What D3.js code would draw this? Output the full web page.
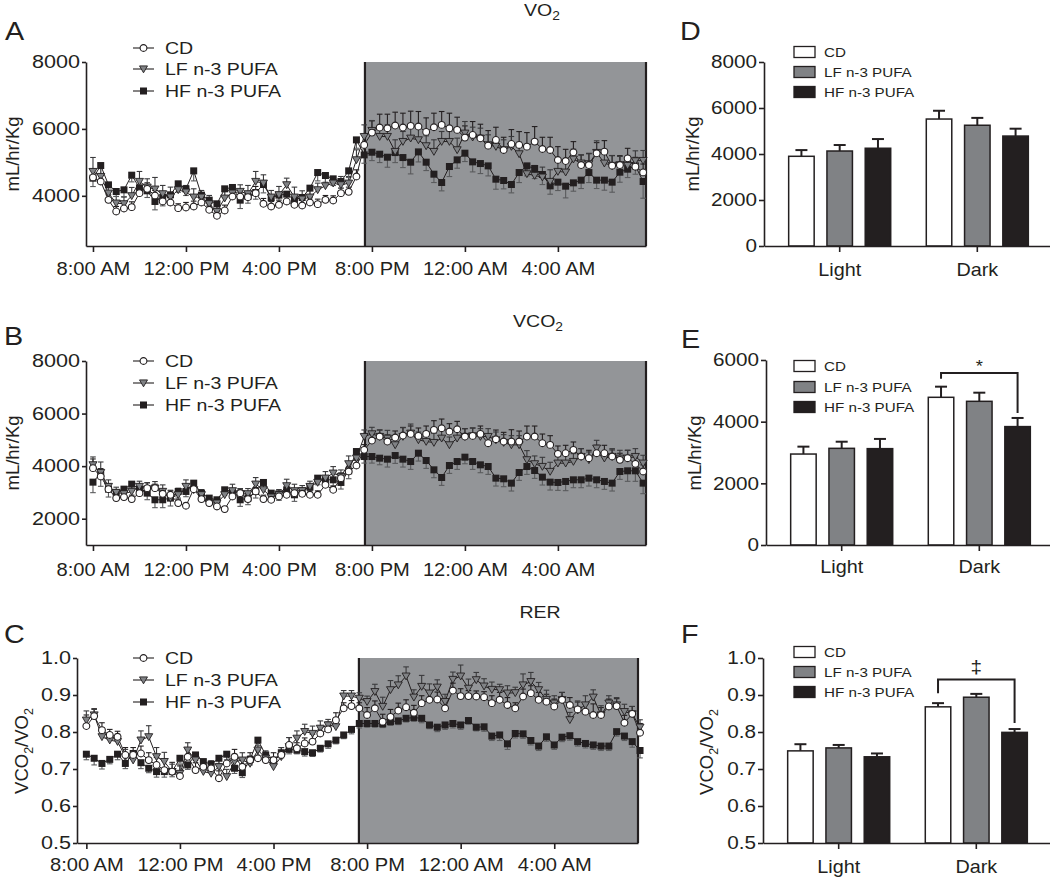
<!DOCTYPE html>
<html><head><meta charset="utf-8">
<script src="https://cdn.jsdelivr.net/npm/d3@7"></script>
<style>body{margin:0;background:#fff}svg{display:block}</style>
</head><body><svg id="c" width="1050" height="878"></svg>
<script>
// ---------------- DATA ----------------
const seriesNames = ["CD", "LF n-3 PUFA", "HF n-3 PUFA"];
const clockTicks = [8, 12, 16, 20, 24, 28];
const clockLabels = ["8:00 AM", "12:00 PM", "4:00 PM", "8:00 PM", "12:00 AM", "4:00 AM"];
const hours = d3.range(72).map(i => 8 + i / 3); // 20-min sampling grid, 8:00 AM -> 7:40 AM
const periods = ["Light", "Dark"];

// Panel A: VO2 (mL/hr/Kg)
const vo2CD = [4550,4428,3880,3532,3622,3661,4080,4209,4010,3831,3801,3632,3652,3681,3801,3582,3403,3562,3980,3980,3960,4080,3761,3681,3731,3831,3731,3711,3801,3751,3880,3860,4080,4119,4577,5522,
  5890,6040,6020,6100,6040,6090,6070,5910,6050,6120,6020,5970,5740,5820,5720,5500,5670,5370,5550,5520,5470,5620,5400,5370,5070,5040,5300,4920,4920,5270,5320,4900,4920,5120,4870,4700];
const vo2LF = [4726,4577,4080,3781,3761,4000,4428,4259,4199,4060,3960,4179,4109,3960,3960,3761,3532,3930,4080,4129,4060,4428,4378,3960,4030,4328,3960,3900,3960,4179,4298,4378,4328,4378,5075,5771,
  5951,5772,5772,5324,5622,5722,5672,5493,5324,5622,5622,5374,5871,5752,5722,5523,5473,5374,5473,5254,4657,4607,4558,4428,4727,4707,5095,4976,4956,5294,4976,4906,4926,4906,5045,5055];
const vo2HF = [4527,4905,4328,4129,4179,4617,4239,4150,3831,3950,4030,4358,4209,4746,4020,3870,3761,4209,4249,3870,3980,4099,4338,3940,4020,4050,3880,3950,4229,4696,4607,4507,4428,4746,5672,5224,
  5303,5244,5154,5293,5144,5005,5313,5005,4647,4398,4876,5075,5274,5015,4965,4895,4497,4458,4338,4696,4895,4816,4637,4298,4408,4288,4388,4468,4696,4468,4468,4408,4706,4796,4895,4428];
const vo2CDerr = [250,200,150,150,170,160,200,180,150,160,170,130,150,160,170,140,120,160,200,180,170,200,160,150,140,170,160,150,140,150,130,140,150,140,200,300,
  350,400,420,400,430,440,450,420,420,400,450,380,350,400,420,450,380,380,430,400,420,450,350,380,400,350,320,300,350,320,330,300,280,300,280,250];
const vo2LFerr = [420,250,200,200,200,250,300,250,350,250,300,250,200,250,200,250,200,200,250,200,250,300,250,200,250,200,300,250,200,200,250,200,250,200,300,350,
  300,300,350,350,300,350,350,300,350,300,300,350,350,300,300,300,250,300,300,350,300,300,300,350,300,300,300,250,300,350,300,300,250,250,300,300];
const vo2HFerr = [250,250,200,150,200,200,200,200,250,250,300,250,200,300,250,200,200,250,250,250,200,200,250,200,250,200,200,200,200,250,200,200,200,200,250,250,
  250,250,300,300,300,350,300,250,250,250,300,250,250,300,300,300,300,250,250,300,300,300,300,250,250,350,250,250,300,250,300,300,300,250,250,500];

// Panel B: VCO2 (mL/hr/Kg)
const vco2CD = [3923,3606,3125,2784,2822,2746,2973,3163,3163,2948,2910,2594,2493,3125,2746,2594,2467,2366,2847,2973,2746,3037,2746,2720,2847,2910,2973,2948,2910,2910,3290,3100,3543,3796,4024,
  4619,4974,5126,4936,5088,5164,5227,5151,5227,5379,5442,5316,5404,5126,5151,5227,4872,5024,4936,4936,4936,5126,5126,4872,4809,4467,4493,4619,4366,4303,4493,4493,4366,4240,4303,4088,3797];
const vco2LF = [4050,3758,3227,2999,2948,3037,3227,3125,3163,3037,2784,2910,3227,3100,2910,2594,2594,2910,3062,2948,2948,3315,3100,2822,2910,3252,3062,3062,3227,3379,3543,3733,3606,4088,4303,
  5126,5227,5126,5062,4809,5126,5252,4999,4936,4898,5062,4809,5062,5126,5151,5126,5126,4999,4898,4809,4809,4240,4088,3986,3797,4113,4113,4176,4366,4240,4683,4303,4366,4303,4303,4366,4113];
const vco2HF = [3391,3733,3125,2999,3125,3315,3125,2973,2720,2720,2784,3037,3037,3353,2973,2784,2720,3100,3037,2720,2784,3037,3379,2973,2948,3100,2910,3062,3201,3543,3480,3480,3379,3822,4556,
  4366,4366,4303,4265,4404,4265,4176,4493,4214,3860,3568,4024,4176,4341,4176,4050,3986,3543,3518,3353,3758,3986,3834,3581,3391,3379,3417,3480,3480,3543,3480,3417,3353,3796,3822,3822,3353];
const vco2CDerr = [350,300,200,150,150,150,150,200,150,150,150,150,100,250,150,150,150,100,150,150,150,150,150,150,150,150,150,150,150,150,150,150,200,200,200,200,
  250,250,250,250,300,300,300,300,350,350,300,300,300,300,300,300,350,350,450,400,400,400,350,350,300,300,300,300,300,300,300,250,250,300,250,250];
const vco2LFerr = [300,400,250,200,200,200,200,250,250,250,300,250,250,250,200,200,200,250,250,200,200,250,250,200,200,250,250,200,200,250,250,250,250,300,300,250,
  250,250,300,300,350,350,300,350,350,350,300,300,300,300,300,300,300,300,350,350,350,300,350,350,300,300,300,300,300,300,250,300,300,300,300,300];
const vco2HFerr = [400,500,300,250,250,200,250,250,300,300,300,250,200,250,250,250,250,200,250,250,250,250,200,200,250,250,250,200,200,250,250,250,250,300,300,250,
  250,250,300,300,300,300,300,300,300,300,300,300,250,300,300,300,300,300,300,300,300,300,300,300,300,350,300,300,300,300,300,300,300,400,400,400];

// Panel C: RER (VCO2/VO2)
const rerCD = [0.816,0.843,0.805,0.792,0.787,0.738,0.738,0.742,0.724,0.711,0.697,0.693,0.681,0.733,0.697,0.706,0.702,0.675,0.715,0.733,0.706,0.724,0.729,0.724,0.724,0.738,0.765,0.756,0.769,0.774,0.796,0.807,0.832,0.864,0.870,0.864,
  0.846,0.864,0.828,0.841,0.858,0.867,0.852,0.878,0.887,0.888,0.864,0.912,0.897,0.897,0.896,0.894,0.878,0.887,0.873,0.864,0.896,0.905,0.887,0.882,0.869,0.887,0.873,0.861,0.855,0.846,0.846,0.869,0.870,0.825,0.849,0.798];
const rerLF = [0.832,0.846,0.787,0.778,0.774,0.733,0.724,0.778,0.787,0.733,0.720,0.693,0.688,0.751,0.724,0.693,0.688,0.706,0.679,0.720,0.724,0.715,0.751,0.729,0.706,0.733,0.760,0.783,0.801,0.796,0.810,0.819,0.814,0.897,0.897,0.891,
  0.882,0.909,0.869,0.914,0.927,0.951,0.894,0.923,0.905,0.921,0.882,0.942,0.951,0.918,0.941,0.924,0.915,0.914,0.905,0.906,0.927,0.936,0.914,0.888,0.878,0.887,0.833,0.859,0.873,0.894,0.846,0.878,0.873,0.855,0.849,0.813];
const rerHF = [0.740,0.729,0.715,0.726,0.740,0.715,0.742,0.717,0.702,0.693,0.693,0.693,0.729,0.711,0.738,0.720,0.713,0.729,0.740,0.702,0.690,0.726,0.778,0.738,0.724,0.744,0.753,0.751,0.747,0.744,0.756,0.768,0.778,0.792,0.807,0.823,
  0.823,0.823,0.822,0.828,0.830,0.837,0.839,0.837,0.819,0.813,0.819,0.823,0.819,0.831,0.813,0.814,0.789,0.792,0.768,0.796,0.795,0.777,0.762,0.787,0.765,0.786,0.790,0.774,0.769,0.765,0.762,0.762,0.801,0.789,0.774,0.750];
const rerCDerr = [.030,.020,.020,.015,.015,.020,.020,.020,.020,.020,.025,.025,.030,.020,.020,.020,.020,.020,.020,.020,.020,.020,.020,.020,.020,.020,.020,.015,.015,.020,.020,.020,.020,.015,.015,.015,
  .020,.020,.020,.020,.020,.020,.020,.020,.020,.020,.025,.020,.020,.015,.015,.015,.020,.020,.020,.015,.020,.020,.020,.020,.020,.020,.020,.020,.020,.030,.020,.020,.020,.020,.020,.025];
const rerLFerr = [.025,.015,.020,.020,.020,.020,.020,.025,.030,.025,.025,.020,.020,.020,.020,.025,.020,.020,.020,.020,.020,.020,.020,.020,.025,.025,.025,.020,.020,.020,.020,.015,.020,.015,.015,.015,
  .015,.020,.025,.025,.025,.025,.020,.030,.025,.020,.020,.020,.030,.025,.020,.020,.020,.015,.020,.015,.030,.025,.020,.025,.020,.020,.020,.025,.025,.020,.025,.020,.020,.020,.020,.020];
const rerHFerr = [.015,.018,.015,.012,.015,.014,.015,.016,.012,.015,.015,.014,.013,.012,.015,.014,.012,.014,.015,.014,.013,.015,.015,.012,.013,.014,.012,.010,.012,.010,.010,.012,.010,.010,.012,.012,
  .010,.010,.010,.010,.010,.010,.010,.012,.010,.012,.012,.012,.012,.010,.010,.012,.012,.015,.015,.012,.012,.012,.012,.012,.012,.012,.012,.012,.012,.012,.012,.012,.012,.012,.015,.020];

// Panels D-F: light/dark means (CD, LF, HF) and SEM
const vo2BarLight = [3900, 4130, 4250], vo2BarLightErr = [270, 260, 400];
const vo2BarDark = [5520, 5250, 4780], vo2BarDarkErr = [360, 320, 320];
const vco2BarLight = [2950, 3135, 3125], vco2BarLightErr = [240, 215, 315];
const vco2BarDark = [4790, 4660, 3840], vco2BarDarkErr = [345, 280, 280];
const rerBarLight = [0.749, 0.757, 0.733], rerBarLightErr = [0.018, 0.008, 0.009];
const rerBarDark = [0.868, 0.894, 0.799], rerBarDarkErr = [0.010, 0.009, 0.009];

// ---------------- DRAWING ----------------
const FONT = "'Liberation Sans', Arial, Helvetica, sans-serif";
const INK = "#231f20", DARKBG = "#939598", LFFILL = "#808285", SX = 1.15;
const svg = d3.select("#c").attr("font-family", FONT);

function stext(x, y, str, size, anchor) {
  return svg.append("text").attr("transform", `translate(${x},${y}) scale(${SX},1)`)
    .attr("font-size", size).attr("text-anchor", anchor || "start").attr("fill", INK).text(str);
}
function subText(sel, parts, subSize, shift) {
  parts.forEach(p => {
    if (p.sub) sel.append("tspan").attr("font-size", subSize).attr("dy", shift).text(p.t);
    else sel.append("tspan").attr("dy", p.back ? -shift : 0).text(p.t);
  });
}
function styleAxis(g, size, stretch) {
  g.attr("font-family", FONT).attr("font-size", size);
  g.select(".domain").attr("stroke", INK).attr("stroke-width", 1.6);
  g.selectAll(".tick line").attr("stroke", INK).attr("stroke-width", 1.6);
  g.selectAll(".tick text").attr("fill", INK).attr("transform", `scale(${stretch},1)`);
}
function marker(sel, k) {
  if (k === 0) sel.append("circle").attr("r", 3.4).attr("fill", "#fff").attr("stroke", INK).attr("stroke-width", 1.1);
  else if (k === 1) sel.append("path").attr("d", "M-4,-3.1L4,-3.1L0,3.8Z").attr("fill", LFFILL).attr("stroke", INK).attr("stroke-width", 0.9);
  else sel.append("rect").attr("x", -3.5).attr("y", -3.5).attr("width", 7).attr("height", 7).attr("fill", INK);
}

function lineChart(o) {
  const g = svg.append("g");
  const x = d3.scaleLinear().domain(o.xDomain).range(o.xRange);
  const y = d3.scaleLinear().domain(o.yDomain).range(o.yRange);
  const top = y(o.yDomain[1]), bot = y(o.yDomain[0]);
  g.append("rect").attr("x", x(o.darkStart)).attr("y", top)
    .attr("width", x(o.xDomain[1]) - x(o.darkStart)).attr("height", bot - top).attr("fill", DARKBG);
  [o.darkStart, o.xDomain[1]].forEach(t => g.append("line")
    .attr("x1", x(t)).attr("x2", x(t)).attr("y1", top).attr("y2", bot).attr("stroke", INK).attr("stroke-width", 2.2));
  const ya = g.append("g").attr("transform", `translate(${o.xRange[0]},0)`)
    .call(d3.axisLeft(y).tickValues(o.yTicks).tickFormat(o.yFmt).tickSize(4).tickSizeOuter(0).tickPadding(1));
  styleAxis(ya, 18, 1.2);
  const xa = g.append("g").attr("transform", `translate(0,${bot})`)
    .call(d3.axisBottom(x).tickValues(clockTicks).tickFormat((d, i) => clockLabels[i]).tickSize(6).tickSizeOuter(0).tickPadding(o.xPad));
  styleAxis(xa, 17.5, SX);

  const errColors = [INK, "#3a3a3c", "#5a5b5d"];
  const dirs = [1, 1, -1];
  o.series.forEach((s, k) => {
    const eg = g.append("g").attr("stroke", errColors[k]).attr("stroke-width", 1.1);
    s.v.forEach((v, i) => {
      const xe = x(hours[i]), y1 = y(v), y2 = y(v + dirs[k] * s.e[i]);
      eg.append("line").attr("x1", xe).attr("x2", xe).attr("y1", y1).attr("y2", y2);
      eg.append("line").attr("x1", xe - 2.8).attr("x2", xe + 2.8).attr("y1", y2).attr("y2", y2);
    });
  });
  o.series.forEach(s => {
    g.append("path").datum(s.v).attr("fill", "none").attr("stroke", INK).attr("stroke-width", 1)
      .attr("d", d3.line().x((d, i) => x(hours[i])).y(d => y(d)));
  });
  [2, 1, 0].forEach(k => {
    const s = o.series[k];
    g.append("g").selectAll("g").data(s.v).join("g")
      .attr("transform", (d, i) => `translate(${x(hours[i])},${y(d)})`)
      .each(function () { marker(d3.select(this), k); });
  });
  // legend
  seriesNames.forEach((n, k) => {
    const ry = o.legendY[k];
    g.append("line").attr("x1", 133).attr("x2", 154).attr("y1", ry).attr("y2", ry).attr("stroke", INK).attr("stroke-width", 1.1);
    marker(g.append("g").attr("transform", `translate(143.5,${ry})`), k);
    stext(165, ry + 6, n, 17);
  });
}

lineChart({ xDomain: [7.7, 31.79], xRange: [86, 646], yDomain: [2500, 8000], yRange: [246, 62],
  yTicks: [4000, 6000, 8000], yFmt: d3.format("d"), darkStart: 19.7, xPad: 11,
  legendY: [48, 69, 91],
  series: [{ v: vo2CD, e: vo2CDerr }, { v: vo2LF, e: vo2LFerr }, { v: vo2HF, e: vo2HFerr }] });
lineChart({ xDomain: [7.7, 31.79], xRange: [86, 646], yDomain: [1000, 8000], yRange: [545, 361],
  yTicks: [2000, 4000, 6000, 8000], yFmt: d3.format("d"), darkStart: 19.7, xPad: 13,
  legendY: [361, 383, 405],
  series: [{ v: vco2CD, e: vco2CDerr }, { v: vco2LF, e: vco2LFerr }, { v: vco2HF, e: vco2HFerr }] });
lineChart({ xDomain: [7.6, 31.58], xRange: [77, 638], yDomain: [0.5, 1.0], yRange: [843, 658],
  yTicks: [0.5, 0.6, 0.7, 0.8, 0.9, 1.0], yFmt: d3.format(".1f"), darkStart: 19.65, xPad: 10,
  legendY: [658, 680, 702],
  series: [{ v: rerCD, e: rerCDerr }, { v: rerLF, e: rerLFerr }, { v: rerHF, e: rerHFerr }] });

function barChart(o) {
  const g = svg.append("g");
  const x0 = d3.scaleBand().domain(periods).range([o.axisX, o.axisX + 289]).paddingInner(0.1).paddingOuter(0.1);
  const x1 = d3.scaleBand().domain(seriesNames).range([0, x0.bandwidth()]).paddingInner(0.334).paddingOuter(0.285);
  const y = d3.scaleLinear().domain(o.yDomain).range(o.yRange);
  const fills = ["#fff", LFFILL, INK];
  const groups = [{ p: "Light", v: o.light, e: o.lightErr }, { p: "Dark", v: o.dark, e: o.darkErr }];
  groups.forEach(gr => {
    gr.v.forEach((v, k) => {
      const bx = x0(gr.p) + x1(seriesNames[k]), cx = bx + x1.bandwidth() / 2;
      const yt = y(v + gr.e[k]);
      g.append("line").attr("x1", cx).attr("x2", cx).attr("y1", y(v)).attr("y2", yt).attr("stroke", INK).attr("stroke-width", 2);
      g.append("line").attr("x1", cx - 6).attr("x2", cx + 6).attr("y1", yt).attr("y2", yt).attr("stroke", INK).attr("stroke-width", 2);
      g.append("rect").attr("x", bx).attr("y", y(v)).attr("width", x1.bandwidth()).attr("height", y(o.yDomain[0]) - y(v))
        .attr("fill", fills[k]).attr("stroke", INK).attr("stroke-width", 1.5);
    });
  });
  const ya = g.append("g").attr("transform", `translate(${o.axisX},0)`)
    .call(d3.axisLeft(y).tickValues(o.yTicks).tickFormat(o.yFmt).tickSize(5).tickSizeOuter(0).tickPadding(1));
  styleAxis(ya, 18, 1.15);
  const xa = g.append("g").attr("transform", `translate(0,${o.yRange[0]})`)
    .call(d3.axisBottom(x0).tickSize(6).tickSizeOuter(0).tickPadding(o.xPad));
  styleAxis(xa, 18, 1.1);
  seriesNames.forEach((n, k) => {
    const ry = o.legendY[k];
    g.append("rect").attr("x", 794).attr("y", ry - 5.5).attr("width", 21).attr("height", 11)
      .attr("fill", fills[k]).attr("stroke", INK).attr("stroke-width", 1.3);
    stext(824, ry + 4.8, n, 13.2);
  });
  if (o.sig) {
    const cx = k => x0("Dark") + x1(seriesNames[k]) + x1.bandwidth() / 2;
    const s = o.sig;
    g.append("path").attr("fill", "none").attr("stroke", INK).attr("stroke-width", 2)
      .attr("d", `M${cx(0)},${y(s.left)}V${y(s.top)}H${cx(2)}V${y(s.right)}`);
    stext(x0("Dark") + x0.bandwidth() / 2, y(s.top) + s.dy, s.label, s.size, "middle");
  }
}

barChart({ axisX: 764, yDomain: [0, 8000], yRange: [246, 62], yTicks: [0, 2000, 4000, 6000, 8000], yFmt: d3.format("d"),
  light: vo2BarLight, lightErr: vo2BarLightErr, dark: vo2BarDark, darkErr: vo2BarDarkErr, xPad: 11, legendY: [52, 72, 92] });
barChart({ axisX: 766, yDomain: [0, 6000], yRange: [545, 360], yTicks: [0, 2000, 4000, 6000], yFmt: d3.format("d"),
  light: vco2BarLight, lightErr: vco2BarLightErr, dark: vco2BarDark, darkErr: vco2BarDarkErr, xPad: 9, legendY: [366, 387, 407],
  sig: { left: 5390, top: 5580, right: 4280, label: "*", size: 16, dy: -1 } });
barChart({ axisX: 763, yDomain: [0.5, 1.0], yRange: [843, 658], yTicks: [0.5, 0.6, 0.7, 0.8, 0.9, 1.0], yFmt: d3.format(".1f"),
  light: rerBarLight, lightErr: rerBarLightErr, dark: rerBarDark, darkErr: rerBarDarkErr, xPad: 11, legendY: [652, 672, 692],
  sig: { left: 0.905, top: 0.942, right: 0.824, label: "‡", size: 18, dy: -6 } });

// panel letters
[["A", 5, 40], ["B", 4, 345], ["C", 4, 643], ["D", 680, 40], ["E", 681, 348], ["F", 681, 643]]
  .forEach(([t, x, y]) => stext(x, y, t, 25));

// titles
subText(stext(542, 16, "", 17, "middle"), [{ t: "VO" }, { t: "2", sub: true }], 12, 4);
subText(stext(538, 327, "", 17, "middle"), [{ t: "VCO" }, { t: "2", sub: true }], 12, 4);
stext(540, 618, "RER", 17, "middle");

// y-axis titles
function ylab(x, y, parts) {
  const t = svg.append("text").attr("transform", `translate(${x},${y}) rotate(-90)`)
    .attr("font-size", 18.5).attr("text-anchor", "middle").attr("fill", INK);
  subText(t, parts, 12.5, 4.5);
}
const massLab = [{ t: "mL/hr/Kg" }];
const rerLab = [{ t: "VCO" }, { t: "2", sub: true }, { t: "/VO", back: true }, { t: "2", sub: true }];
ylab(19, 154, massLab); ylab(19, 453, massLab); ylab(28, 751, rerLab);
ylab(699, 154, massLab); ylab(701, 453, massLab); ylab(713, 752, rerLab);
</script></body></html>
